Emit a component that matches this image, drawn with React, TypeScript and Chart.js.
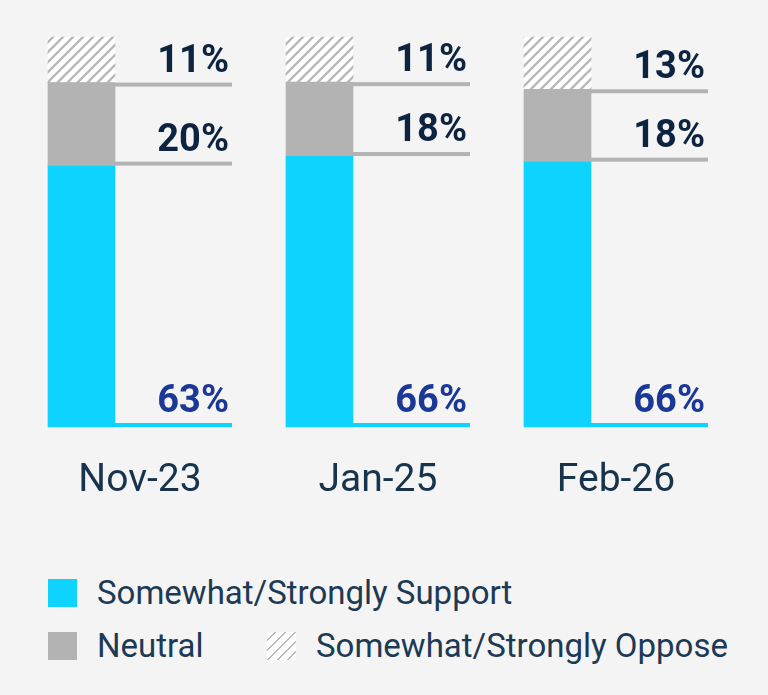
import { useEffect, useRef } from "react";
import { Chart, registerables } from "chart.js";

Chart.register(...registerables);

const categories = ["Nov-23", "Jan-25", "Feb-26"];
const support = [63, 66, 66];
const neutral = [20, 18, 18];
const oppose = [11, 11, 13];

const CYAN = "#0fd3ff";
const GREY = "#b3b3b3";
const BG = "#f4f4f4";
const TEXT = "#18334c";
const BAR_W = 67;
const LINE_EXTEND = 117;
const LINE_W = 4;
const TICK_PAD = 23;
const TICK_SIZE = 39;

const totals = categories.map((_, i) => support[i] + neutral[i] + oppose[i]);
const share = (arr: number[]) => arr.map((v, i) => (v / totals[i]) * 100);

function makeHatch(ctx: CanvasRenderingContext2D) {
  const c = document.createElement("canvas");
  c.width = 10;
  c.height = 10;
  const p = c.getContext("2d")!;
  p.fillStyle = "#ffffff";
  p.fillRect(0, 0, 10, 10);
  p.strokeStyle = "#b8b8b8";
  p.lineWidth = 2.3;
  p.beginPath();
  p.moveTo(-5, 5);
  p.lineTo(5, -5);
  p.moveTo(0, 10);
  p.lineTo(10, 0);
  p.moveTo(5, 15);
  p.lineTo(15, 5);
  p.stroke();
  return ctx.createPattern(c, "repeat")!;
}

// leader line + value label to the right of every segment
const leaderPlugin = {
  id: "leaders",
  afterDatasetsDraw(chart: any) {
    const { ctx } = chart;
    chart.data.datasets.forEach((ds: any, di: number) => {
      const meta = chart.getDatasetMeta(di);
      meta.data.forEach((el: any, i: number) => {
        const { x, base, width } = el.getProps(["x", "base", "width"], true);
        const left = x - width / 2;
        const right = x + width / 2 + LINE_EXTEND;
        const lineTop = base + ds.lineOffset;
        ctx.save();
        ctx.fillStyle = ds.lineColor;
        ctx.fillRect(left, lineTop, right - left, LINE_W);
        ctx.font = "bold 38px Roboto, 'Liberation Sans', sans-serif";
        ctx.fillStyle = ds.labelColor;
        ctx.textAlign = "right";
        ctx.textBaseline = "alphabetic";
        ctx.fillText(`${ds.raw[i]}%`, right - 3, lineTop - 11);
        ctx.restore();
      });
    });
  },
};

export default function App() {
  const canvasRef = useRef<HTMLCanvasElement>(null);
  const chartRef = useRef<Chart | null>(null);

  useEffect(() => {
    document.body.style.margin = "0";
    document.body.style.background = BG;
    if (!canvasRef.current) return;
    const ctx = canvasRef.current.getContext("2d");
    if (!ctx) return;

    chartRef.current?.destroy();

    chartRef.current = new Chart(canvasRef.current, {
      type: "bar",
      data: {
        labels: categories,
        datasets: [
          {
            label: "Somewhat/Strongly Support",
            data: share(support),
            backgroundColor: CYAN,
            raw: support,
            lineColor: CYAN,
            lineOffset: -LINE_W,
            labelColor: "#1b3897",
          } as any,
          {
            label: "Neutral",
            data: share(neutral),
            backgroundColor: GREY,
            raw: neutral,
            lineColor: GREY,
            lineOffset: -LINE_W,
            labelColor: "#0d2440",
          } as any,
          {
            label: "Somewhat/Strongly Oppose",
            data: share(oppose),
            backgroundColor: makeHatch(ctx),
            raw: oppose,
            lineColor: GREY,
            lineOffset: 0,
            labelColor: "#0d2440",
          } as any,
        ],
      },
      options: {
        responsive: true,
        maintainAspectRatio: false,
        animation: false,
        barThickness: BAR_W,
        borderWidth: 0,
        clip: false,
        layout: {
          padding: { left: 81.5, right: 210.5, top: 37, bottom: 0 },
        },
        plugins: {
          legend: { display: false },
          tooltip: { enabled: false },
        },
        scales: {
          x: {
            stacked: true,
            offset: false,
            grid: { display: false },
            border: { display: false },
            ticks: {
              color: TEXT,
              font: { family: "Roboto, 'Liberation Sans', sans-serif", size: TICK_SIZE },
              padding: TICK_PAD,
              labelOffset: LINE_EXTEND / 2,
              maxRotation: 0,
              autoSkip: false,
            },
            afterFit(scale: any) {
              scale.paddingLeft = 0;
              scale.paddingRight = 0;
              scale.height = 540 - 427;
            },
          },
          y: {
            stacked: true,
            display: false,
            min: 0,
            max: 100,
          },
        },
      } as any,
      plugins: [leaderPlugin],
    });

    return () => chartRef.current?.destroy();
  }, []);

  const legendText: React.CSSProperties = {
    position: "absolute",
    font: "400 33px Roboto, 'Liberation Sans', sans-serif",
    color: "#1d3a55",
    lineHeight: "40px",
    whiteSpace: "nowrap",
  };
  const box = (left: number, top: number, background: string): React.CSSProperties => ({
    position: "absolute",
    left,
    top,
    width: 29,
    height: 28,
    background,
  });
  const hatchCss =
    "repeating-linear-gradient(135deg, #ffffff 0px, #ffffff 5.2px, #b8b8b8 5.2px, #b8b8b8 7.07px)";

  return (
    <div style={{ position: "relative", width: 768, height: 695, background: BG }}>
      <div style={{ position: "absolute", left: 0, top: 0, width: 768, height: 540 }}>
        <canvas ref={canvasRef} />
      </div>
      <div style={box(48, 579, CYAN)} />
      <div style={{ ...legendText, left: 97, top: 573 }}>Somewhat/Strongly Support</div>
      <div style={box(48, 632, GREY)} />
      <div style={{ ...legendText, left: 97, top: 626 }}>Neutral</div>
      <div style={box(267, 632, hatchCss)} />
      <div style={{ ...legendText, left: 316, top: 626 }}>Somewhat/Strongly Oppose</div>
    </div>
  );
}
